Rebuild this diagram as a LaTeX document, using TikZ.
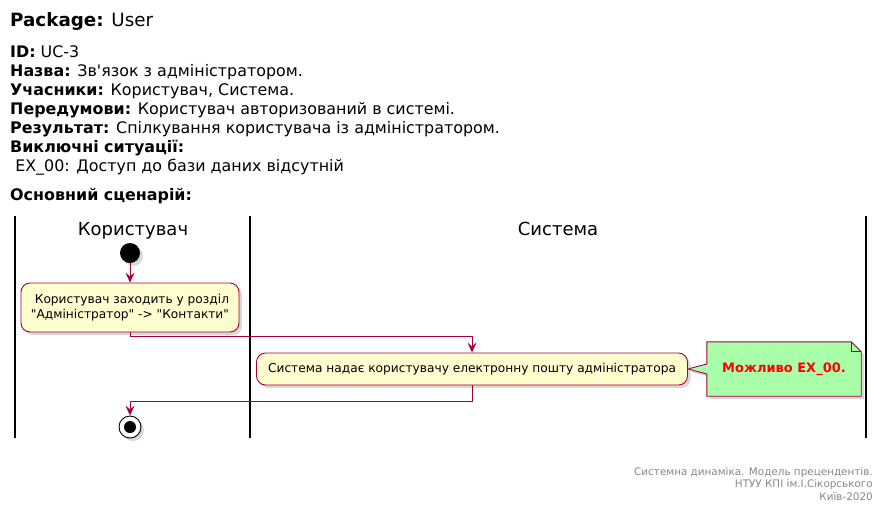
\documentclass[tikz,border=0pt]{standalone}
\usepackage{fontspec}
\setmainfont{DejaVu Sans}[Ligatures=TeXOff]
\usetikzlibrary{calc,arrows.meta,shadows,backgrounds}
\definecolor{umlred}{HTML}{A80036}
\definecolor{umlfill}{HTML}{FEFECE}
\definecolor{notegreen}{HTML}{A9FFA9}
\definecolor{footgray}{HTML}{888888}

\begin{document}
\begin{tikzpicture}[x=1pt,y=-1pt,
  action/.style={draw=umlred,fill=umlfill,rounded corners=9pt,line width=0.9pt,align=center,
    font=\fontsize{12.2}{14.5}\selectfont,drop shadow={opacity=0.3,shadow xshift=3pt,shadow yshift=-3pt}},
  flow/.style={umlred,line width=0.9pt,-{Stealth[length=10pt,width=9pt,inset=4pt]}},
  lane/.style={line width=1.8pt},
  lanehead/.style={anchor=base,font=\fontsize{18}{20}\selectfont},
]
\useasboundingbox (0,0) rectangle (885,512);

\node[anchor=base west,inner sep=0,font=\fontsize{18.3}{20}\selectfont] (pkg) at (10,26) {\textbf{Package:} User};
\node[anchor=north west,inner sep=0,align=left,font=\fontsize{15.9}{19}\selectfont] (info) at (10,45.3) {%
\textbf{ID:} UC-3\\
\textbf{Назва:} Зв'язок з адміністратором.\\
\textbf{Учасники:} Користувач, Система.\\
\textbf{Передумови:} Користувач авторизований в системі.\\
\textbf{Результат:} Спілкування користувача із адміністратором.\\
\textbf{Виключні ситуації:}\\
\ EX\_00: Доступ до бази даних відсутній\\[10pt]
\textbf{Основний сценарій:}};

\draw[lane] (15,216) -- (15,438);
\draw[lane] (250,216) -- (250,438);
\draw[lane] (866,216) -- (866,438);
\node[lanehead] (laneU) at (133,235) {Користувач};
\node[lanehead] (laneS) at (558,235) {Система};

\node[circle,fill=black,minimum size=20pt,inner sep=0,
  drop shadow={opacity=0.3,shadow xshift=3pt,shadow yshift=-3pt}] (start) at (130,253) {};
\node[action,minimum width=218pt,minimum height=49pt] (act1) at (130,307.5)
  {\ Користувач заходить у розділ\\"Адміністратор" -> "Контакти"};
\node[action,minimum width=431pt,minimum height=32pt] (act2) at (472,369)
  {Система надає користувачу електронну пошту адміністратора};
\node[circle,draw=black,fill=white,line width=0.9pt,minimum size=22pt,inner sep=0,
  drop shadow={opacity=0.3,shadow xshift=3pt,shadow yshift=-3pt},
  path picture={\fill[black] (path picture bounding box.center) circle (6pt);}] (stop) at (130,427) {};

\draw[flow] (start) -- (act1);
\draw[flow] (act1.south) -- ++(0,4) -| (act2.north);
\draw[flow] (act2.south) -- ++(0,16) -| (stop.north);

\node[text=red,font=\bfseries\fontsize{13}{15}\selectfont,minimum width=154pt,minimum height=54pt,inner sep=0] (note) at (784,369) {Можливо EX\_00.};

\node[anchor=north east,inner sep=0,align=right,text=footgray,font=\fontsize{10.4}{12.3}\selectfont] (foot) at (873,467.5)
  {Системна динаміка. Модель прецендентів.\\НТУУ КПІ ім.І.Сікорського\\Київ-2020};

\begin{scope}[on background layer]
\fill[white] (0,0) rectangle (885,512);
\draw[umlred,fill=notegreen,line width=0.9pt,drop shadow={opacity=0.3,shadow xshift=3pt,shadow yshift=-3pt}]
  (note.north west) -- ($(note.north east)+(-10,0)$) -- ($(note.north east)+(0,10)$) -- (note.south east)
  -- (note.south west) -- ($(note.west)+(0,5)$) -- (act2.east) -- ($(note.west)+(0,-5)$) -- cycle;
\draw[umlred,line width=0.9pt] ($(note.north east)+(-10,0)$) -- ($(note.north east)+(-10,10)$) -- ($(note.north east)+(0,10)$);
\end{scope}
\end{tikzpicture}
\end{document}
